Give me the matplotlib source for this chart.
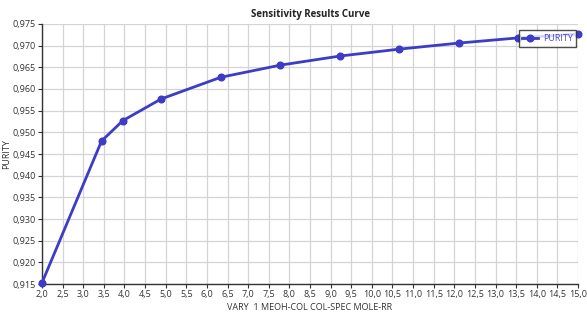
import matplotlib
matplotlib.use("Agg")
import matplotlib.pyplot as plt
from matplotlib.ticker import FuncFormatter, MultipleLocator

x_vals = [2.0, 3.444, 3.96, 4.889, 6.333, 7.778, 9.222, 10.667, 12.111, 13.556, 15.0]
purity = [0.9153, 0.9480, 0.9527, 0.9577, 0.9627, 0.9655, 0.9676, 0.9692, 0.9706, 0.9718, 0.9727]
title = "Sensitivity Results Curve"
xlabel = "VARY  1 MEOH-COL COL-SPEC MOLE-RR"
ylabel = "PURITY"
series_name = "PURITY"

plt.rcParams['font.family'] = ['Open Sans', 'DejaVu Sans']

fig = plt.figure(figsize=(5.87, 3.14), dpi=100)
ax = fig.add_axes([0.0716, 0.0955, 0.9131, 0.8281])

ax.plot(x_vals, purity, color='#3c3cc4', lw=2.0, marker='o', ms=4.8,
        label=series_name, clip_on=False, zorder=3)

ax.set_xlim(2.0, 15.0)
ax.set_ylim(0.915, 0.975)
ax.xaxis.set_major_locator(MultipleLocator(0.5))
ax.yaxis.set_major_locator(MultipleLocator(0.005))
ax.xaxis.set_major_formatter(FuncFormatter(lambda v, p: f"{v:.1f}".replace('.', ',')))
ax.yaxis.set_major_formatter(FuncFormatter(lambda v, p: f"{v:.3f}".replace('.', ',')))

ax.grid(True, color='#d4d4d4', lw=0.9)
ax.set_axisbelow(True)
for s in ['top', 'right']:
    ax.spines[s].set_visible(False)
for s in ['left', 'bottom']:
    ax.spines[s].set_color('#333333')
    ax.spines[s].set_linewidth(1.0)

ax.tick_params(axis='both', labelsize=6.5, colors='#333333', length=3, width=0.8, pad=1.5)

ax.set_title(title, fontsize=7, fontweight='bold', color='#222222', pad=5)
ax.set_xlabel(xlabel, fontsize=6.5, color='#333333', labelpad=3)
ax.set_ylabel(ylabel, fontsize=6.5, color='#333333', labelpad=1)

leg = ax.legend(loc='upper right', bbox_to_anchor=(0.997, 0.975), fontsize=6.5,
                frameon=True, fancybox=False, handlelength=1.8, borderpad=0.4,
                handletextpad=0.5, borderaxespad=0.0)
leg.get_frame().set_edgecolor('#222222')
leg.get_frame().set_linewidth(1.0)
for t in leg.get_texts():
    t.set_color('#4a4ad0')
leg.set_zorder(5)

fig.savefig('out.png', dpi=100)
